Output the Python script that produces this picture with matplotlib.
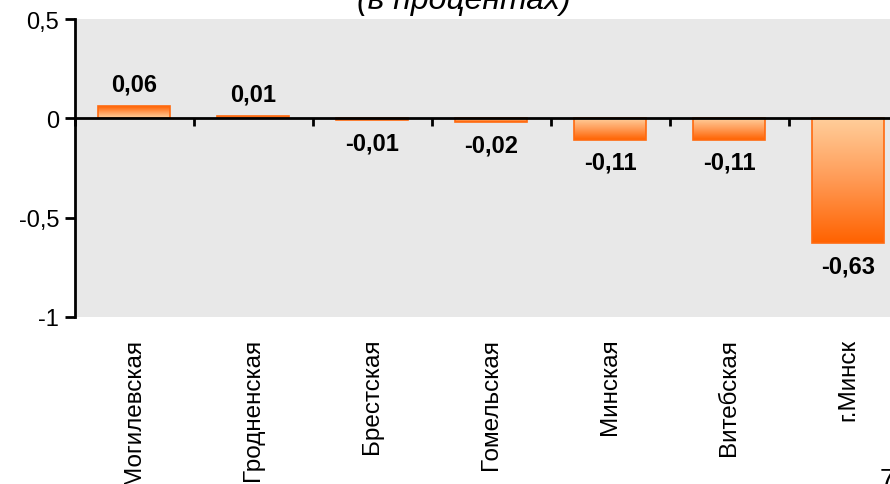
import numpy as np
import matplotlib
matplotlib.use("Agg")
import matplotlib.pyplot as plt
from matplotlib.colors import LinearSegmentedColormap
from matplotlib.transforms import blended_transform_factory

plt.rcParams['font.family'] = ['Liberation Sans', 'DejaVu Sans']

categories = ["Могилевская", "Гродненская", "Брестская", "Гомельская",
              "Минская", "Витебская", "г.Минск"]
values = [0.06, 0.01, -0.01, -0.02, -0.11, -0.11, -0.63]
value_labels = ["0,06", "0,01", "-0,01", "-0,02", "-0,11", "-0,11", "-0,63"]
yticks = [-1, -0.5, 0, 0.5]
ytick_labels = ["-1", "-0,5", "0", "0,5"]
title = "(в процентах)"
page_number = "7"

W, H = 890, 485
fig = plt.figure(figsize=(W / 100, H / 100), dpi=100)
fig.patch.set_facecolor("white")

ax = fig.add_axes([74.5 / W, (H - 318) / H, 833 / W, 298 / H])
ax.set_facecolor("#E8E8E8")

x = np.arange(len(categories))
bars = ax.bar(x, values, width=0.605, facecolor="none",
              edgecolor="#FF6A10", linewidth=1.2, zorder=3)

cmap = LinearSegmentedColormap.from_list("og", ["#FFCF9C", "#FF9A55", "#FF6200"])
grad = np.linspace(0, 1, 256).reshape(-1, 1)
for b, v in zip(bars, values):
    l = b.get_x()
    r = l + b.get_width()
    lo, hi = min(0, v), max(0, v)
    data = grad if v > 0 else grad[::-1]
    ax.imshow(data, cmap=cmap, aspect="auto", origin="lower",
              extent=(l, r, lo, hi), zorder=2, interpolation="bilinear")

ax.set_xlim(-0.5, len(categories) - 0.5)
ax.set_ylim(-1, 0.5)

# spines
for s in ["top", "right"]:
    ax.spines[s].set_visible(False)
ax.spines["left"].set_linewidth(2)
ax.spines["left"].set_color("black")
ax.spines["bottom"].set_position(("data", 0))
ax.spines["bottom"].set_linewidth(2)
ax.spines["bottom"].set_color("black")
ax.spines["bottom"].set_zorder(4)

ax.set_yticks(yticks)
ax.set_yticklabels(ytick_labels, fontsize=17)
ax.tick_params(axis="y", direction="out", length=7, width=2, pad=4)

ax.set_xticks(np.arange(len(categories) + 1) - 0.5)
ax.set_xticklabels([])
ax.tick_params(axis="x", direction="out", length=6, width=2)

# category labels
trans = blended_transform_factory(ax.transData, ax.transAxes)
for xi, c in zip(x, categories):
    ax.text(xi, -0.07, c, transform=trans, rotation=90, ha="center",
            va="top", fontsize=17.5, clip_on=False)

# value labels
for xi, v, lab in zip(x, values, value_labels):
    off = 16 if v > 0 else -16
    ax.annotate(lab, (xi, v), xytext=(0, off), textcoords="offset points",
                ha="center", va="center", fontsize=17, fontweight="bold",
                zorder=5)

fig.text(463.5 / W, 1 - 9 / H, title, ha="center", va="baseline",
         fontsize=23, style="italic")
fig.text(880 / W, (H - 468) / H, page_number, ha="left", va="top",
         fontsize=20)

fig.savefig("out.png", dpi=100)
